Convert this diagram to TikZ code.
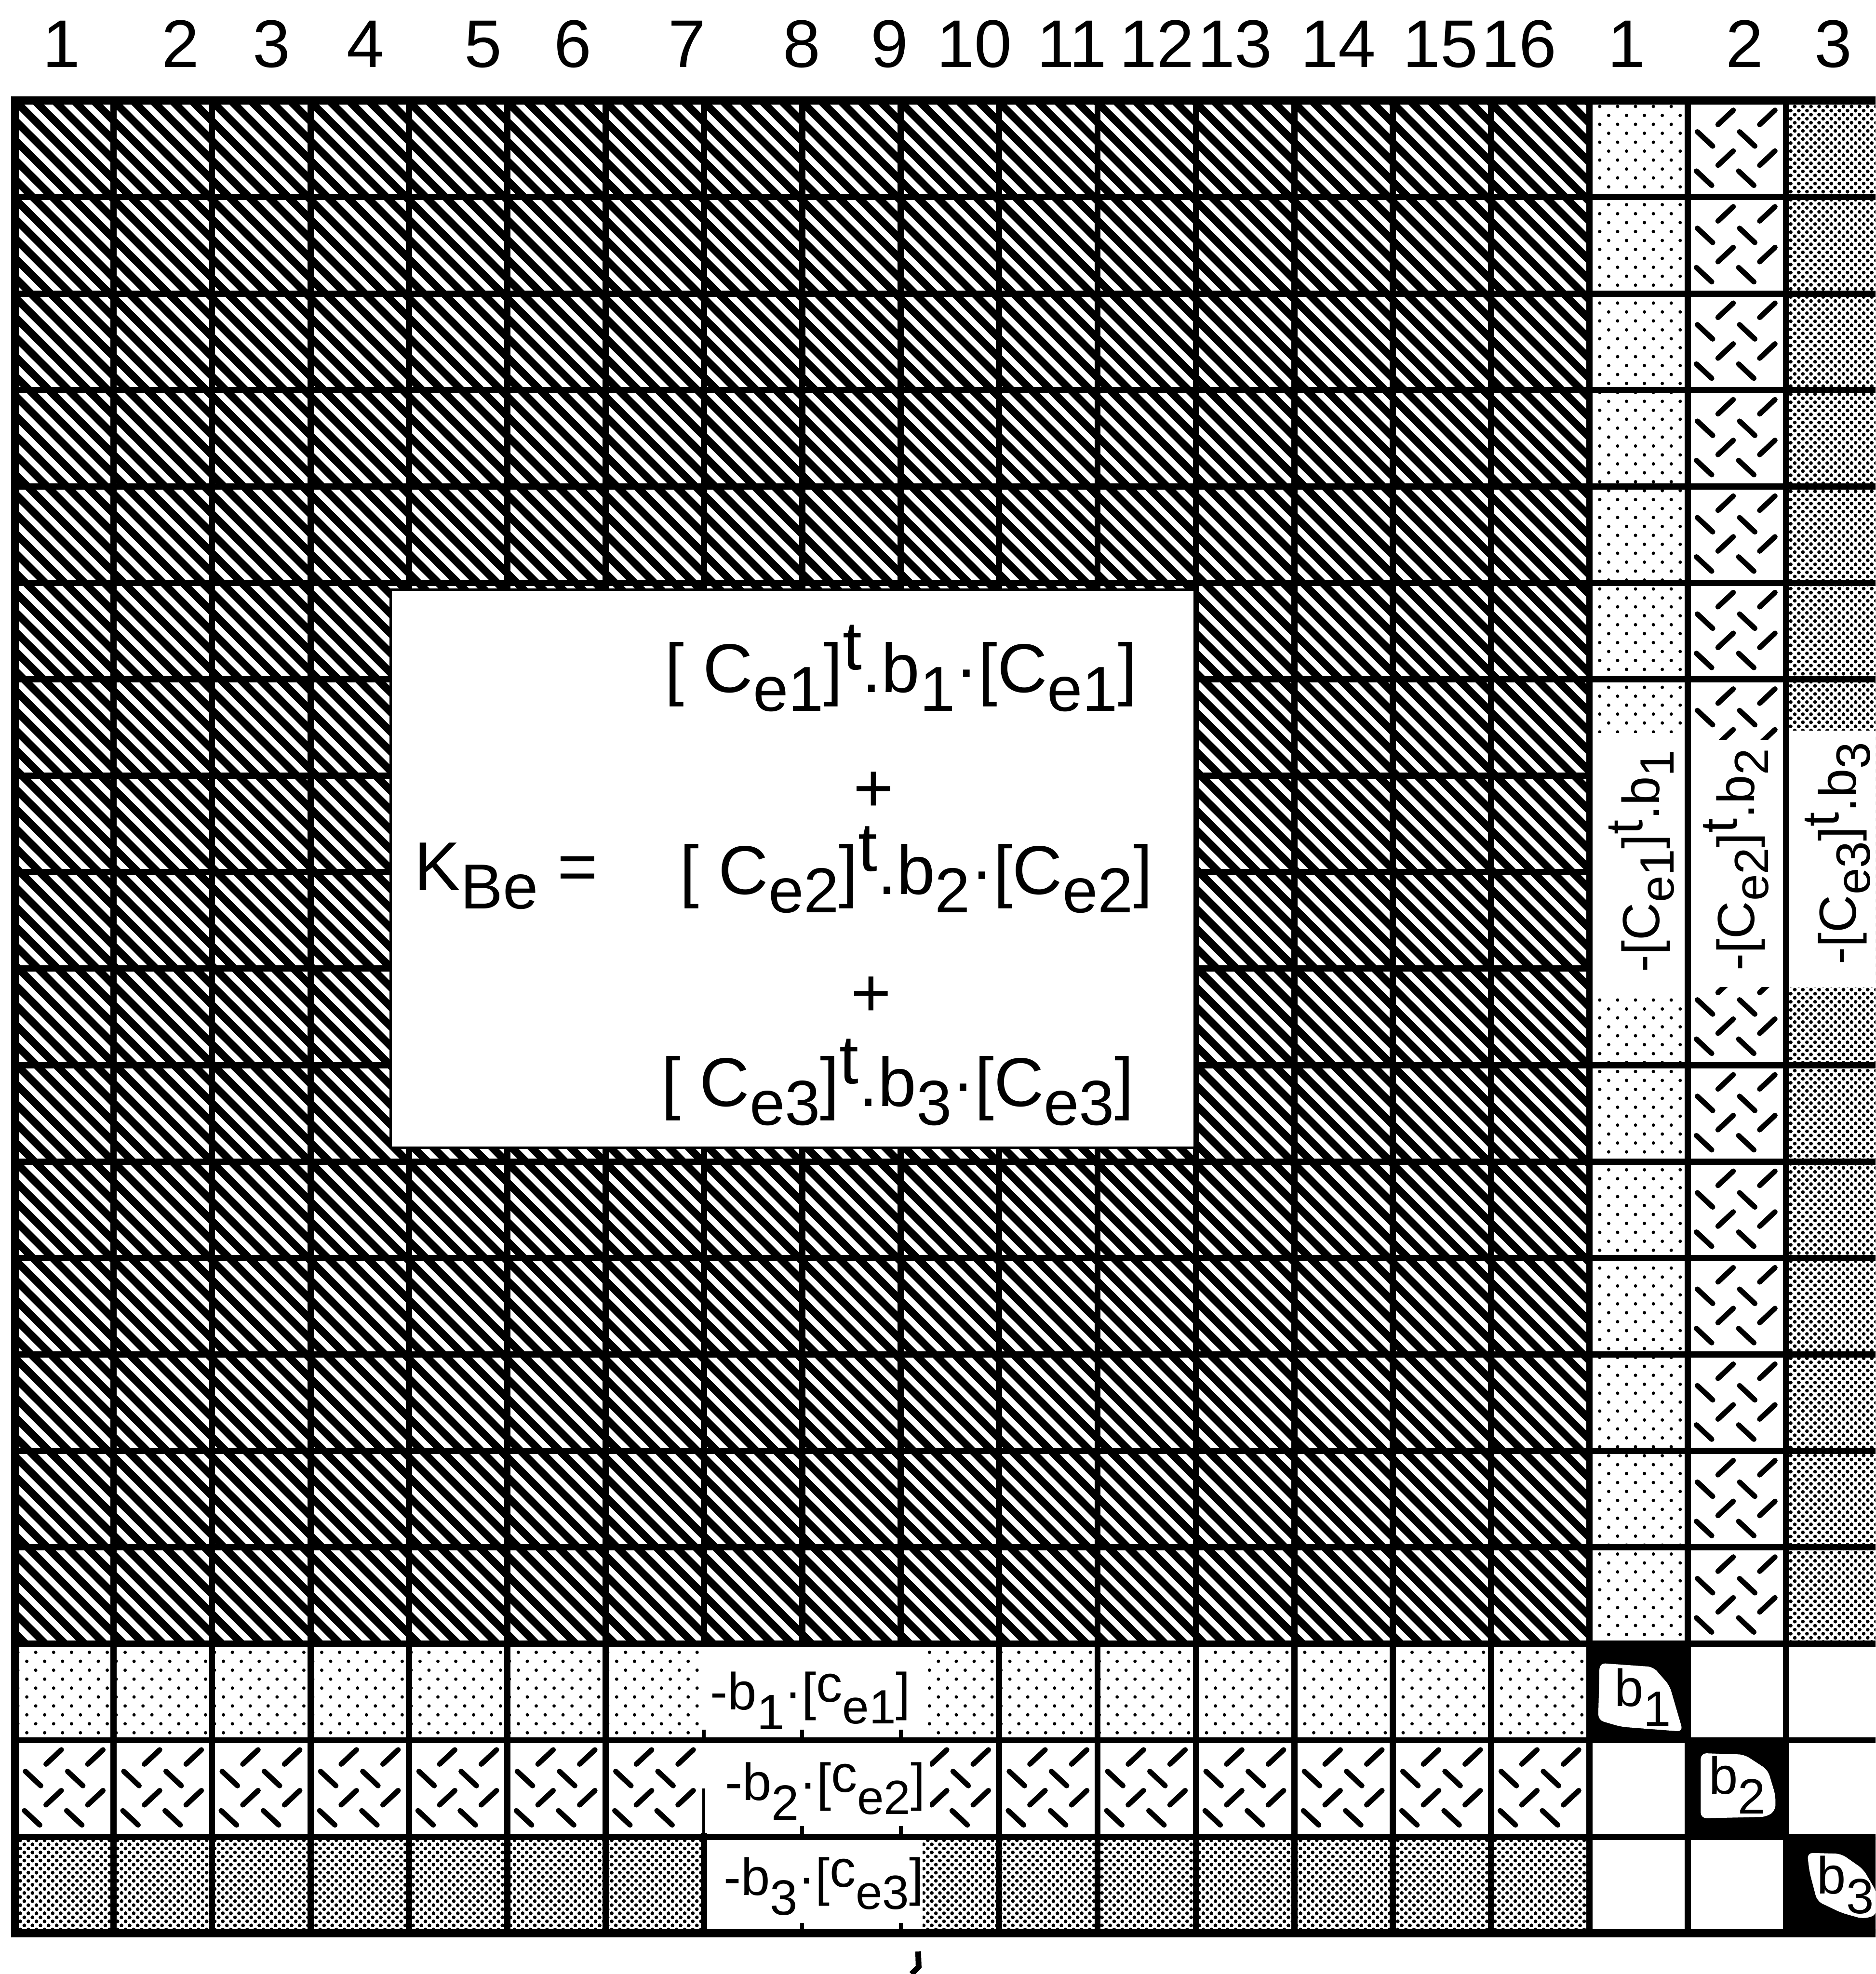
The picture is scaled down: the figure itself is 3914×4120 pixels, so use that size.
\documentclass[tikz,border=0pt]{standalone}
\usepackage{fontspec}
\usepackage{graphicx}
\setmainfont{Liberation Sans}
\usetikzlibrary{patterns.meta}
\newcommand{\dn}[1]{\raisebox{-0.27em}{\scalebox{0.92}{#1}}}
\newcommand{\dnn}[1]{\raisebox{-0.38em}{\scalebox{0.95}{#1}}}
\newcommand{\upx}[1]{\raisebox{0.33em}{#1}}
\newcommand{\dashcell}[2]{%
  \draw[dsh] ({#1+80-16},{#2+35+15}) -- ++(32,-30);
  \draw[dsh] ({#1+167-16},{#2+35+15}) -- ++(32,-30);
  \draw[dsh] ({#1+37-16},{#2+80-15}) -- ++(32,30);
  \draw[dsh] ({#1+125-16},{#2+80-15}) -- ++(32,30);
  \draw[dsh] ({#1+80-16},{#2+120+15}) -- ++(32,-30);
  \draw[dsh] ({#1+167-16},{#2+120+15}) -- ++(32,-30);
  \draw[dsh] ({#1+35-16},{#2+162-15}) -- ++(32,30);
  \draw[dsh] ({#1+123-16},{#2+162-15}) -- ++(32,30);
}
\begin{document}
\begin{tikzpicture}[x=0.01cm,y=-0.01cm,
  grid/.style={line width=0.13cm, line cap=rect},
  outer/.style={line width=0.17cm, line cap=rect},
  hatch/.style={line width=0.16cm},
  dsh/.style={line width=0.11cm, line cap=round},
  tick/.style={line width=0.08cm},
  digit/.style={font=\fontsize{40}{48}\selectfont, anchor=base, inner sep=0pt},
  formula/.style={font=\fontsize{41}{49}\selectfont, anchor=base, inner sep=0pt},
  lbl/.style={font=\fontsize{31}{37}\selectfont, anchor=base, inner sep=0pt},
  sparse/.style={pattern={Dots[distance=7.5pt, radius=1pt, angle=45]}},
  dense/.style={pattern={Dots[distance=3.4pt, radius=1.1pt, angle=45]}},
]
\useasboundingbox (0,0) rectangle (3914,4120);
\fill[white] (0,0) rectangle (3914,4120);
\begin{scope}
\clip (0,0) rectangle (3914,4120);
% main hatching
\begin{scope}
\clip (32,210) rectangle (3317,3431);
\foreach \c in {-3300,-3259,...,3400} \draw[hatch] (\c,200) -- ++(3300,3300);
\end{scope}
% dot patterns
\path[sparse] (3316,210) rectangle (3521,3431);
\path[sparse] (32,3431) rectangle (3316,3632);
\path[dense] (3724,210) rectangle (3933,3431);
\path[dense] (32,3833) rectangle (3316,4035);
% dashes
\foreach \r in {0,...,15} {\pgfmathsetmacro\cy{210+201.3*\r}\dashcell{3521}{\cy}}
\foreach \c in {0,...,15} {\pgfmathsetmacro\cx{32+205.3*\c}\dashcell{\cx}{3632}}
% white label areas
\fill[white] (3316,1530) rectangle (3521,2078);
\fill[white] (3521,1545) rectangle (3724,2060);
\fill[white] (3724,1525) rectangle (3933,2060);
\fill[white] (1469,3431) rectangle (1925,3632);
\fill[white] (1469,3632) rectangle (1940,3833);
\fill[white] (1469,3833) rectangle (1925,4035);
% diagonal block
\fill[black] (3316,3431) rectangle (3521,3632);
\fill[black] (3521,3632) rectangle (3724,3833);
\fill[black] (3724,3833) rectangle (3933,4035);
\fill[white, rounded corners=0.12cm] (3338,3471) -- (3450,3479) -- (3484,3518) -- (3512,3614) -- (3383,3604) -- (3335,3590) -- cycle;
\fill[white, rounded corners=0.12cm] (3549,3659) -- (3640,3662) -- (3689,3694) -- (3705,3747) -- (3705,3779) -- (3686,3792) -- (3549,3795) -- cycle;
\fill[white, rounded corners=0.12cm] (3771,3867) -- (3842,3869) -- (3888,3901) -- (3916,3949) -- (3916,3997) -- (3888,4005) -- (3842,3992) -- (3792,3968) -- (3776,3907) -- cycle;
% grid lines
\foreach \k in {1,2,3,4,5,6,10,11,12,13,14,15,16,17,18} {\pgfmathsetmacro\yy{210+201.3*\k}\draw[grid] (32,\yy) -- (3933,\yy);}
\foreach \k in {7,8,9} {\pgfmathsetmacro\yy{210+201.3*\k}\draw[grid] (32,\yy) -- (3316,\yy);}
\draw[outer] (32,210) -- (3933,210);
\draw[outer] (32,4035) -- (3933,4035);
\foreach \k in {1,2,3,4,5,6,10,11,12,13,14,15,16,17,18} {\pgfmathsetmacro\xx{32+205.3*\k}\draw[grid] (\xx,210) -- (\xx,4035);}
\foreach \k in {7,8,9} {\pgfmathsetmacro\xx{32+205.3*\k}\draw[grid] (\xx,210) -- (\xx,3431);}
\draw[outer] (32,210) -- (32,4035);
\draw[outer] (3933,210) -- (3933,4035);
\draw[line width=0.06cm] (1469,3733) -- (1469,3833);
\draw[grid] (1469,3833) -- (1469,4035);
\draw[tick] (1469,3610) -- (1469,3632);
\foreach \xx in {1674,1880} {\draw[tick] (\xx,3610) -- (\xx,3632); \draw[tick] (\xx,3811) -- (\xx,3833); \draw[tick] (\xx,4013) -- (\xx,4035);}
% central white box
\draw[line width=0.05cm, fill=white] (815,1231) rectangle (2493,2395);
% bottom mark
\draw[line width=0.12cm] (1916,4073) -- (1917,4105) -- (1902,4120);
\end{scope}
% top labels
\node[digit] (t1) at (128,140) {1};
\node[digit] (t2) at (377,140) {2};
\node[digit] (t3) at (567,140) {3};
\node[digit] (t4) at (763,140) {4};
\node[digit] (t5) at (1008,140) {5};
\node[digit] (t6) at (1195,140) {6};
\node[digit] (t7) at (1434,140) {7};
\node[digit] (t8) at (1673,140) {8};
\node[digit] (t9) at (1856,140) {9};
\node[digit] (t10) at (2033,140) {10};
\node[digit] (t11) at (2237,140) {11};
\node[digit] (t12) at (2414,140) {12};
\node[digit] (t13) at (2577,140) {13};
\node[digit] (t14) at (2793,140) {14};
\node[digit] (t15) at (3006,140) {15};
\node[digit] (t16) at (3170,140) {16};
\node[digit] (u1) at (3394,140) {1};
\node[digit] (u2) at (3641,140) {2};
\node[digit] (u3) at (3826,140) {3};
% formula
\node[formula] (f1) at (1880,1445) {[ C\dn{e1}]\upx{t}.b\dn{1}·[C\dn{e1}]};
\node[formula] (p1) at (1823,1694) {+};
\node[formula, anchor=base west] (kbe) at (864,1858) {K\dn{Be} =};
\node[formula] (f2) at (1912,1866) {[ C\dn{e2}]\upx{t}.b\dn{2}·[C\dn{e2}]};
\node[formula] (p2) at (1818,2122) {+};
\node[formula] (f3) at (1873,2309) {[ C\dn{e3}]\upx{t}.b\dn{3}·[C\dn{e3}]};
% vertical labels
\node[lbl, rotate=90] (v1) at (3463,1797) {-[C\dn{e1}]\upx{t}.b\dn{1}};
\node[lbl, rotate=90] (v2) at (3661,1794) {-[C\dn{e2}]\upx{t}.b\dn{2}};
\node[lbl, rotate=90] (v3) at (3873,1781) {-[C\dn{e3}]\upx{t}.b\dn{3}};
% bottom labels
\node[lbl] (h1) at (1691,3568) {-b\dnn{1}·[\raisebox{0.15em}{c}\dn{e1}]};
\node[lbl] (h2) at (1722,3757) {-b\dnn{2}·[\raisebox{0.15em}{c}\dn{e2}]};
\node[lbl] (h3) at (1719,3955) {-b\dnn{3}·[\raisebox{0.15em}{c}\dn{e3}]};
% diagonal labels
\node[lbl] (bb1) at (3428,3561) {b\dnn{1}};
\node[lbl] (bb2) at (3625,3744) {b\dnn{2}};
\node[lbl] (bb3) at (3851,3952) {b\dnn{3}};
\end{tikzpicture}
\end{document}
